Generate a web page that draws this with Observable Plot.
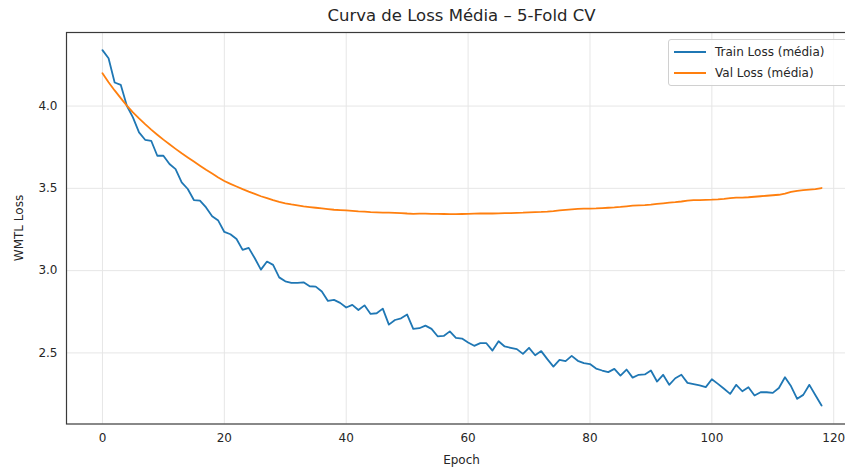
<!DOCTYPE html>
<html><head><meta charset="utf-8">
<script src="https://cdn.jsdelivr.net/npm/d3@7"></script>
<script src="https://cdn.jsdelivr.net/npm/@observablehq/plot@0.6"></script>
<style>
html,body{margin:0;padding:0;background:#fff;overflow:hidden;width:845px;height:468px;}
#wrap{position:relative;width:858px;height:468px;font-family:"DejaVu Sans",sans-serif;color:#262626;}
#title{position:absolute;left:66px;width:791px;top:0;height:32px;line-height:32px;text-align:center;font-size:16.5px;}
#chart{position:absolute;left:0;top:30px;}
#xlabel{position:absolute;left:66px;width:791px;top:451px;height:18px;line-height:18px;text-align:center;font-size:12px;}
#ylabel{position:absolute;left:19px;top:228px;width:0;height:0;}
#ylabel span{position:absolute;left:0;top:0;transform:translate(-50%,-50%) rotate(-90deg);white-space:nowrap;font-size:12px;line-height:14px;}
#legend{position:absolute;left:668px;top:39px;width:181px;height:45px;border:1px solid #d0d0d0;border-radius:3px;background:rgba(255,255,255,0.85);font-size:12px;}
.row{position:absolute;left:5px;height:16px;line-height:16px;white-space:nowrap;}
.sw{display:inline-block;width:32px;height:2px;vertical-align:middle;margin-right:9px;position:relative;top:-1px;}
</style></head><body>
<div id="wrap">
<div id="title"></div>
<div id="chart"></div>
<div id="xlabel"></div>
<div id="ylabel"><span></span></div>
<div id="legend"></div>
</div>
<script>
const titleText = "Curva de Loss Média – 5-Fold CV";
const xLabelText = "Epoch";
const yLabelText = "WMTL Loss";
const seriesNames = ["Train Loss (média)", "Val Loss (média)"];
const seriesColors = ["#1f77b4", "#ff7f0e"];
const xTicks = [0, 20, 40, 60, 80, 100, 120];
const yTicks = [2.5, 3.0, 3.5, 4.0];

const trainLoss = [
 4.340, 4.291, 4.143, 4.129, 4.002, 3.931, 3.840, 3.795, 3.789, 3.698,
 3.698, 3.648, 3.617, 3.536, 3.496, 3.429, 3.425, 3.384, 3.330, 3.304,
 3.235, 3.221, 3.192, 3.126, 3.138, 3.075, 3.006, 3.055, 3.035, 2.959,
 2.935, 2.925, 2.925, 2.929, 2.905, 2.903, 2.873, 2.816, 2.822, 2.804,
 2.776, 2.792, 2.761, 2.789, 2.737, 2.741, 2.769, 2.672, 2.700, 2.710,
 2.733, 2.646, 2.650, 2.666, 2.646, 2.601, 2.603, 2.631, 2.591, 2.587,
 2.563, 2.543, 2.559, 2.559, 2.514, 2.571, 2.539, 2.531, 2.523, 2.494,
 2.531, 2.486, 2.511, 2.462, 2.417, 2.458, 2.450, 2.482, 2.452, 2.438,
 2.432, 2.405, 2.393, 2.383, 2.403, 2.362, 2.399, 2.350, 2.367, 2.369,
 2.393, 2.326, 2.367, 2.306, 2.346, 2.367, 2.318, 2.310, 2.302, 2.292,
 2.340, 2.312, 2.282, 2.251, 2.306, 2.267, 2.291, 2.241, 2.261, 2.261,
 2.257, 2.287, 2.352, 2.297, 2.221, 2.245, 2.306, 2.243, 2.180
];

const valLoss = [
 4.200, 4.145, 4.095, 4.048, 4.003, 3.962, 3.925, 3.890, 3.857, 3.826,
 3.796, 3.768, 3.740, 3.713, 3.688, 3.663, 3.638, 3.613, 3.590, 3.566,
 3.545, 3.527, 3.511, 3.495, 3.480, 3.466, 3.452, 3.440, 3.428, 3.418,
 3.409, 3.402, 3.396, 3.390, 3.386, 3.382, 3.378, 3.374, 3.370, 3.368,
 3.366, 3.363, 3.360, 3.358, 3.355, 3.354, 3.353, 3.352, 3.351, 3.350,
 3.347, 3.345, 3.346, 3.346, 3.345, 3.345, 3.344, 3.343, 3.343, 3.344,
 3.345, 3.346, 3.347, 3.347, 3.347, 3.348, 3.349, 3.350, 3.351, 3.352,
 3.354, 3.356, 3.357, 3.359, 3.362, 3.366, 3.369, 3.372, 3.375, 3.377,
 3.377, 3.378, 3.380, 3.382, 3.384, 3.387, 3.391, 3.395, 3.397, 3.398,
 3.401, 3.405, 3.409, 3.413, 3.416, 3.420, 3.425, 3.428, 3.429, 3.430,
 3.431, 3.433, 3.436, 3.440, 3.443, 3.444, 3.446, 3.449, 3.452, 3.455,
 3.458, 3.461, 3.468, 3.478, 3.485, 3.489, 3.492, 3.495, 3.502
];

const epochs = trainLoss.map((_, i) => i);

const rows = [
  ...epochs.map(e => ({epoch: e, loss: trainLoss[e], series: seriesNames[0]})),
  ...epochs.map(e => ({epoch: e, loss: valLoss[e], series: seriesNames[1]}))
];

document.getElementById("title").textContent = titleText;
document.getElementById("xlabel").textContent = xLabelText;
document.querySelector("#ylabel span").textContent = yLabelText;

const chart = Plot.plot({
  width: 858,
  height: 438,
  marginLeft: 66,
  marginRight: 1,
  marginTop: 2,
  marginBottom: 44.5,
  style: {fontFamily: "DejaVu Sans", fontSize: "12px", color: "#262626", background: "transparent", overflow: "visible"},
  x: {domain: [-5.9, 123.9], ticks: xTicks, tickFormat: d => String(d), label: null, tickSize: 0, tickPadding: 9},
  y: {domain: [2.068, 4.447], ticks: yTicks, tickFormat: d3.format(".1f"), label: null, tickSize: 0, tickPadding: 9},
  color: {domain: seriesNames, range: seriesColors},
  marks: [
    Plot.ruleX(xTicks, {x: d => d, stroke: "#e6e6e6", strokeWidth: 1}),
    Plot.ruleY(yTicks, {y: d => d, stroke: "#e6e6e6", strokeWidth: 1}),
    Plot.lineY(rows, {x: "epoch", y: "loss", z: "series", stroke: "series", strokeWidth: 1.8, strokeLinejoin: "round"}),
    Plot.frame({stroke: "#3a3a3a", strokeWidth: 1.2})
  ]
});
document.getElementById("chart").appendChild(chart);

const legend = document.getElementById("legend");
seriesNames.forEach((name, i) => {
  const row = document.createElement("div");
  row.className = "row";
  row.style.top = (4 + i * 21) + "px";
  const sw = document.createElement("span");
  sw.className = "sw";
  sw.style.background = seriesColors[i];
  row.appendChild(sw);
  row.appendChild(document.createTextNode(name));
  legend.appendChild(row);
});
</script>
</body></html>
